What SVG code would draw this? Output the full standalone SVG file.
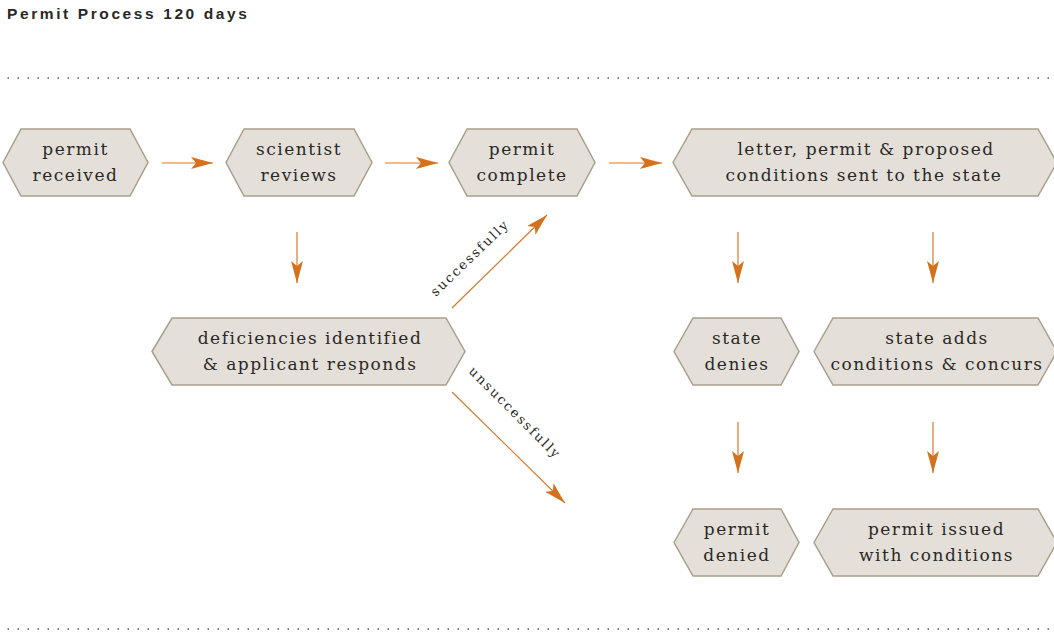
<svg xmlns="http://www.w3.org/2000/svg" width="1054" height="635" viewBox="0 0 1054 635">
<style>
.node polygon{fill:#e4e0d9;stroke:#a99f8b;stroke-width:1.5}
.node text{font-family:"DejaVu Serif","Liberation Serif",serif;font-size:17px;letter-spacing:1.5px;fill:#2a2826;text-anchor:middle}
.conn line{stroke:#d8782b;stroke-width:1.2;fill:none}
.lbl{font-family:"DejaVu Serif","Liberation Serif",serif;font-size:13px;letter-spacing:2px;fill:#2a2826;text-anchor:middle}
.dots{stroke:#555;stroke-width:1.5;stroke-dasharray:1.5 8.5}
</style>
<defs>
<marker id="ah" viewBox="0 0 22 12" refX="22" refY="6" markerWidth="22" markerHeight="12" markerUnits="userSpaceOnUse" orient="auto">
<path d="M0,0 L22,6 L0,12 L5,6 Z" fill="#d4711c"/>
</marker>
</defs>
<rect width="1054" height="635" fill="#ffffff"/>
<text x="7" y="19" font-family="'Liberation Sans',Arial,sans-serif" font-size="15.5" font-weight="bold" letter-spacing="2.6" fill="#2a2826">Permit Process 120 days</text>
<line class="dots" x1="7.5" y1="78" x2="1054" y2="78"/>
<line class="dots" x1="7.5" y1="629" x2="1054" y2="629"/>

<g id="connectors" class="conn">
<line x1="162" y1="163" x2="213" y2="163" marker-end="url(#ah)"/>
<line x1="385" y1="163" x2="438" y2="163" marker-end="url(#ah)"/>
<line x1="609" y1="163" x2="662" y2="163" marker-end="url(#ah)"/>
<line x1="297" y1="232" x2="297" y2="283" marker-end="url(#ah)"/>
<line x1="738" y1="232" x2="738" y2="283" marker-end="url(#ah)"/>
<line x1="933" y1="232" x2="933" y2="283" marker-end="url(#ah)"/>
<line x1="738" y1="422" x2="738" y2="473" marker-end="url(#ah)"/>
<line x1="933" y1="422" x2="933" y2="473" marker-end="url(#ah)"/>
<line x1="452" y1="308" x2="547" y2="215" marker-end="url(#ah)"/>
<line x1="452" y1="392" x2="565" y2="503" marker-end="url(#ah)"/>
<text class="lbl" transform="translate(473,261) rotate(-44)">successfully</text>
<text class="lbl" transform="translate(512,416) rotate(45)">unsuccessfully</text>
</g>

<g id="n-received" class="node">
<polygon points="3,162.5 21,129 130,129 148,162.5 130,196 21,196"/>
<text x="75.5" y="155">permit</text>
<text x="75.5" y="181">received</text>
</g>
<g id="n-scientist" class="node">
<polygon points="226,162.5 244,129 354,129 372,162.5 354,196 244,196"/>
<text x="299" y="155">scientist</text>
<text x="299" y="181">reviews</text>
</g>
<g id="n-complete" class="node">
<polygon points="449,162.5 467,129 577,129 595,162.5 577,196 467,196"/>
<text x="522" y="155">permit</text>
<text x="522" y="181">complete</text>
</g>
<g id="n-letter" class="node">
<polygon points="673,162.5 692,129 1038,129 1057,162.5 1038,196 692,196"/>
<text x="866" y="155">letter, permit &amp; proposed</text>
<text x="864" y="181">conditions sent to the state</text>
</g>
<g id="n-deficiencies" class="node">
<polygon points="152,351.5 172,318 446,318 465,351.5 446,385 172,385"/>
<text x="310" y="344">deficiencies identified</text>
<text x="310" y="370">&amp; applicant responds</text>
</g>
<g id="n-statedenies" class="node">
<polygon points="674,351.5 693,318 781,318 799,351.5 781,385 693,385"/>
<text x="737" y="344">state</text>
<text x="737" y="370">denies</text>
</g>
<g id="n-stateadds" class="node">
<polygon points="814,351.5 833,318 1038,318 1057,351.5 1038,385 833,385"/>
<text x="937" y="344">state adds</text>
<text x="937" y="370" letter-spacing="1.2">conditions &amp; concurs</text>
</g>
<g id="n-denied" class="node">
<polygon points="674,542.5 693,509 781,509 799,542.5 781,576 693,576"/>
<text x="737" y="535">permit</text>
<text x="737" y="561">denied</text>
</g>
<g id="n-issued" class="node">
<polygon points="814,542.5 833,509 1038,509 1057,542.5 1038,576 833,576"/>
<text x="936.5" y="535">permit issued</text>
<text x="936.5" y="561">with conditions</text>
</g>
</svg>
